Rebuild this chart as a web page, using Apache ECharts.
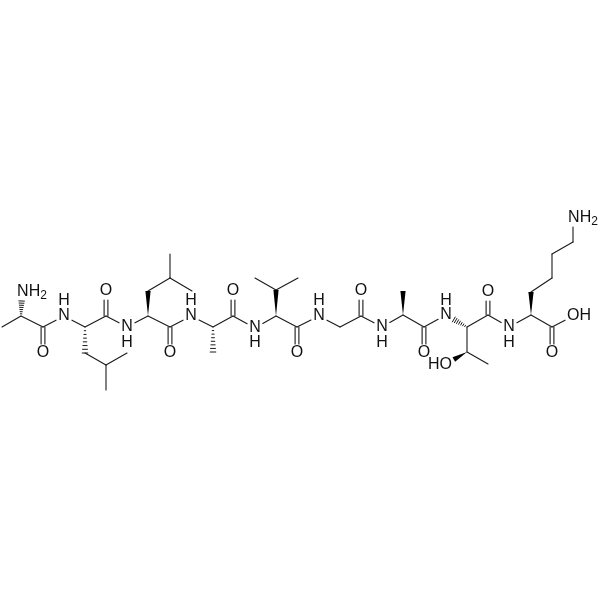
<!DOCTYPE html>
<html>
<head>
<meta charset="utf-8">
<style>html,body{margin:0;padding:0;background:#fff}#c{width:600px;height:600px}</style>
<script src="https://cdn.jsdelivr.net/npm/echarts@6/dist/echarts.min.js"></script>
</head>
<body>
<div id="c"></div>
<script>
// Atoms of the peptide
const atomNames = ['C1','A1','N1','C2','O2','N2','A2','B2','G2','D2a','D2b','C3','O3','N3','A3','B3','G3','D3a','D3b','C4','O4','N4','A4','B4','C5','O5','N5','A5','B5','G5a','G5b','C6','O6','N6','A6','C7','O7','N7','A7','B7','C8','O8','N8','A8','B8','G8','O8b','C9','O9','N9','A9','B9','G9','D9','E9','Nz','C10','O10','O11'];
const atomX = [2,21,22,43,43,64,85,85,106,127,106,106,106,127,148,148,170,170,192,170,170,191,213,213,233,233,255,276,276,255,298,297,297,319,340,361,361,382,403,403,424,424,446,467,467,488,446,488,488,509,531,531,552,552,573,573,552,552,573];
const atomY = [327,316,292,327,353,316,327,353,365,353,390,316,291,327,316,291,278,254,291,327,353,316,327,352,316,291,328,316,290,278,278,327,353,316,327,316,291,327,315,291,327,353,315,327,352,364,364,315,292,327,315,292,278,254,242,218,327,353,316];
const singleBonds = [['C1','A1'],['A1','C2'],['C2','N2'],['N2','A2'],['A2','C3'],['C3','N3'],['N3','A3'],['A3','C4'],['C4','N4'],['N4','A4'],['A4','C5'],['C5','N5'],['N5','A5'],['A5','C6'],['C6','N6'],['N6','A6'],['A6','C7'],['C7','N7'],['N7','A7'],['A7','C8'],['C8','N8'],['A8','C9'],['C9','N9'],['N9','A9'],['A9','C10'],['C10','O11'],['B2','G2'],['G2','D2a'],['G2','D2b'],['B3','G3'],['G3','D3a'],['G3','D3b'],['B5','G5a'],['B5','G5b'],['A8','B8'],['B8','G8'],['B9','G9'],['G9','D9'],['D9','E9'],['E9','Nz']];
const doubleBonds = [['C2','O2'],['C3','O3'],['C4','O4'],['C5','O5'],['C6','O6'],['C7','O7'],['C8','O8'],['C9','O9'],['C10','O10']];
const wedgeBonds = [['A3','B3'],['A5','B5'],['A7','B7'],['A9','B9'],['B8','O8b']];
const hashBonds = [['A1','N1'],['A2','B2'],['A4','B4'],['A8','N8']];
const labelTexts = ['NH{s|2}','O','N','H','O','N','H','O','N','H','O','N','H','O','N','H','O','N','H','O','N','H','N','H','O','HO','OH','O','NH{s|2}'];
const labelX = [32,43,64,64,106,127,127,170,191,191,233,255,255,297,319,319,361,382,382,424,446,446,509,509,488,440,579,552,583];
const labelY = [292,353,316,301,291,327,343,353,316,301,291,328,343,353,316,301,291,327,343,353,315,301,327,343,292,365,316,353,218];

const hetero = /^(N|O)/;
const idx = n => atomNames.indexOf(n);
function row(pair, kind){
  const a = idx(pair[0]), b = idx(pair[1]);
  return [atomX[a], atomY[a], atomX[b], atomY[b], kind, hetero.test(pair[0]) ? 1 : 0, hetero.test(pair[1]) ? 1 : 0];
}
const bondData = [].concat(
  singleBonds.map(p => row(p, 0)),
  doubleBonds.map(p => row(p, 1)),
  wedgeBonds.map(p => row(p, 2)),
  hashBonds.map(p => row(p, 3))
);
const labelData = labelX.map((x, i) => [x, labelY[i]]);
const INK = '#1a1a1a';
const FONT = '"Liberation Sans", Arial, sans-serif';
function renderBond(params, api){
  let p = api.coord([api.value(0), api.value(1)]);
  let q = api.coord([api.value(2), api.value(3)]);
  const kind = api.value(4);
  const dx = q[0]-p[0], dy = q[1]-p[1], L = Math.hypot(dx, dy);
  const ux = dx/L, uy = dy/L, nx = -uy, ny = ux;
  const gap = 9;
  if (api.value(5)) p = [p[0]+ux*gap, p[1]+uy*gap];
  if (api.value(6)) q = [q[0]-ux*gap, q[1]-uy*gap];
  const line = (a, b, w) => ({type:'line', shape:{x1:a[0],y1:a[1],x2:b[0],y2:b[1]}, style:{stroke:INK, lineWidth:w||1.1, lineCap:'round'}});
  if (kind === 0) return line(p, q);
  if (kind === 1) {
    const o = 1.9;
    return {type:'group', children:[
      line([p[0]+nx*o,p[1]+ny*o],[q[0]+nx*o,q[1]+ny*o]),
      line([p[0]-nx*o,p[1]-ny*o],[q[0]-nx*o,q[1]-ny*o])
    ]};
  }
  if (kind === 2) {
    const w = 2.6;
    return {type:'polygon', shape:{points:[[p[0],p[1]],[q[0]+nx*w,q[1]+ny*w],[q[0]-nx*w,q[1]-ny*w]]}, style:{fill:'#000'}};
  }
  const kids = [], n = 7, len = Math.hypot(q[0]-p[0], q[1]-p[1]);
  for (let i = 1; i <= n; i++) {
    const t = i/n, c = [p[0]+ux*len*t, p[1]+uy*len*t], w = 0.4 + 2.4*t;
    kids.push(line([c[0]+nx*w,c[1]+ny*w],[c[0]-nx*w,c[1]-ny*w], 1));
  }
  return {type:'group', children:kids};
}
function renderLabel(params, api){
  const c = api.coord([api.value(0), api.value(1)]);
  const t = labelTexts[params.dataIndex];
  const parts = t.split('{s|2}');
  return {type:'text', x:c[0], y:c[1], style:{
    text: t.indexOf('{s|') >= 0 ? '{n|' + parts[0] + '}{s|2}' : '{n|' + t + '}',
    fill:'#111', align:'center', verticalAlign:'middle', fontSize:16, fontFamily:FONT,
    rich:{
      n:{fontSize:16, fontFamily:FONT, fill:'#111', lineHeight:16},
      s:{fontSize:12, fontFamily:FONT, fill:'#111', lineHeight:16, padding:[7,0,0,0]}
    }
  }};
}
const chart = echarts.init(document.getElementById('c'), null, {renderer:'canvas'});
chart.setOption({
  animation:false,
  backgroundColor:'#fff',
  grid:{left:0,right:0,top:0,bottom:0},
  xAxis:{type:'value',min:0,max:600,show:false},
  yAxis:{type:'value',min:0,max:600,inverse:true,show:false},
  series:[
    {type:'custom',coordinateSystem:'cartesian2d',data:bondData,renderItem:renderBond,silent:true,clip:false,
     encode:{x:[0,2],y:[1,3]}},
    {type:'custom',coordinateSystem:'cartesian2d',data:labelData,renderItem:renderLabel,silent:true,clip:false,
     encode:{x:0,y:1}}
  ]
});
</script>
</body>
</html>
